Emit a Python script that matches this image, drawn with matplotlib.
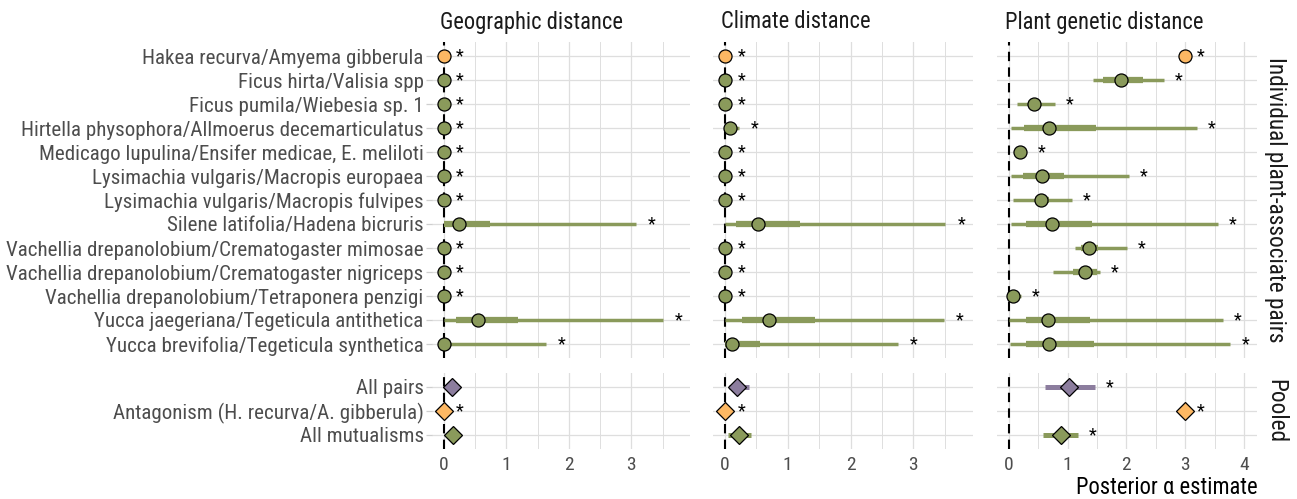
import os
import matplotlib
matplotlib.use("Agg")
import matplotlib.pyplot as plt
from matplotlib import font_manager as fm
from matplotlib.font_manager import FontProperties
from matplotlib.ticker import MultipleLocator, FixedLocator
import numpy as np

# ---- data -----------------------------------------------------------------
pairs = [
    "Hakea recurva/Amyema gibberula",
    "Ficus hirta/Valisia spp",
    "Ficus pumila/Wiebesia sp. 1",
    "Hirtella physophora/Allmoerus decemarticulatus",
    "Medicago lupulina/Ensifer medicae, E. meliloti",
    "Lysimachia vulgaris/Macropis europaea",
    "Lysimachia vulgaris/Macropis fulvipes",
    "Silene latifolia/Hadena bicruris",
    "Vachellia drepanolobium/Crematogaster mimosae",
    "Vachellia drepanolobium/Crematogaster nigriceps",
    "Vachellia drepanolobium/Tetraponera penzigi",
    "Yucca jaegeriana/Tegeticula antithetica",
    "Yucca brevifolia/Tegeticula synthetica",
]
pair_type = ["antagonism"] + ["mutualism"] * 12

panels = ["Geographic distance", "Climate distance", "Plant genetic distance"]

geo_med  = [0, 0, 0, 0, 0, 0, 0, 0.25, 0, 0, 0, 0.54, 0]
geo_lo50 = [0, 0, 0, 0, 0, 0, 0, 0.01, 0, 0, 0, 0.19, 0]
geo_hi50 = [0.01, 0.01, 0.01, 0.01, 0.01, 0.01, 0.01, 0.74, 0.01, 0.01, 0.01, 1.19, 0.10]
geo_lo95 = [0, 0, 0, 0, 0, 0, 0, 0, 0, 0, 0, 0, 0]
geo_hi95 = [0.01, 0.01, 0.01, 0.01, 0.01, 0.01, 0.01, 3.08, 0.01, 0.01, 0.01, 3.50, 1.63]

clim_med  = [0, 0, 0, 0.09, 0, 0, 0, 0.53, 0, 0, 0, 0.71, 0.12]
clim_lo50 = [0, 0, 0, 0.03, 0, 0, 0, 0.17, 0, 0, 0, 0.28, 0.01]
clim_hi50 = [0.01, 0.01, 0.01, 0.15, 0.01, 0.01, 0.01, 1.20, 0.01, 0.01, 0.01, 1.43, 0.56]
clim_lo95 = [0, 0, 0, 0, 0, 0, 0, 0.01, 0, 0, 0, 0, 0]
clim_hi95 = [0.01, 0.01, 0.01, 0.23, 0.01, 0.01, 0.01, 3.51, 0.01, 0.01, 0.01, 3.48, 2.76]

gen_med  = [3.00, 1.90, 0.43, 0.69, 0.19, 0.57, 0.55, 0.73, 1.36, 1.29, 0.07, 0.67, 0.68]
gen_lo50 = [2.99, 1.60, 0.33, 0.26, 0.15, 0.24, 0.45, 0.29, 1.22, 1.09, 0.03, 0.29, 0.29]
gen_hi50 = [3.01, 2.28, 0.55, 1.49, 0.24, 0.94, 0.68, 1.41, 1.52, 1.50, 0.12, 1.38, 1.45]
gen_lo95 = [2.98, 1.44, 0.14, 0.04, 0.12, 0.04, 0.07, 0.04, 1.13, 0.75, 0.00, 0.00, 0.02]
gen_hi95 = [3.02, 2.64, 0.79, 3.20, 0.30, 2.04, 1.08, 3.56, 2.01, 1.55, 0.21, 3.64, 3.77]

pooled = ["All pairs", "Antagonism (H. recurva/A. gibberula)", "All mutualisms"]
pooled_type = ["all", "antagonism", "mutualism"]

geo_pool_med = [0.14, 0.00, 0.15]
geo_pool_lo  = [0.05, 0.00, 0.06]
geo_pool_hi  = [0.24, 0.01, 0.25]
geo_pool_sig = [False, True, False]

clim_pool_med = [0.20, 0.00, 0.22]
clim_pool_lo  = [0.06, 0.00, 0.05]
clim_pool_hi  = [0.38, 0.01, 0.42]
clim_pool_sig = [False, True, False]

gen_pool_med = [1.03, 3.00, 0.88]
gen_pool_lo  = [0.61, 2.99, 0.58]
gen_pool_hi  = [1.46, 3.01, 1.17]
gen_pool_sig = [True, True, True]

x_title = "Posterior α estimate"
row_strips = ["Individual plant-associate pairs", "Pooled"]

indiv = [
    (geo_med, geo_lo50, geo_hi50, geo_lo95, geo_hi95),
    (clim_med, clim_lo50, clim_hi50, clim_lo95, clim_hi95),
    (gen_med, gen_lo50, gen_hi50, gen_lo95, gen_hi95),
]
pool = [
    (geo_pool_med, geo_pool_lo, geo_pool_hi, geo_pool_sig),
    (clim_pool_med, clim_pool_lo, clim_pool_hi, clim_pool_sig),
    (gen_pool_med, gen_pool_lo, gen_pool_hi, gen_pool_sig),
]


# ---- font: prefer a narrow sans face ---------------------------------------
def pick_narrow_font():
    bad = ("bold", "italic", "oblique", "light", "thin", "medium", "black",
           "semibold", "extrabold", "extralight", "extracondensed",
           "semicondensed", "ultracondensed", "heavy")
    ranked = ["liberationsansnarrow", "arialnarrow", "robotocondensed",
              "notosans-condensed", "opensans-condensed", "dejavusanscondensed",
              "notosanscondensed", "opensanscondensed"]
    found = {}
    for e in fm.fontManager.ttflist:
        base = os.path.basename(e.fname).lower()
        if not ("narrow" in base or "condensed" in base):
            continue
        if any(b in base.replace("regular", "") for b in bad):
            continue
        for r in ranked:
            if base.startswith(r):
                found.setdefault(r, e.fname)
    for r in ranked:
        if r in found:
            return FontProperties(fname=found[r])
    return FontProperties(family="Liberation Sans")


font = pick_narrow_font()


def fp(size):
    f = font.copy()
    f.set_size(size)
    return f


# ---- figure ---------------------------------------------------------------
W, H = 1297, 499
fig = plt.figure(figsize=(W / 100, H / 100), dpi=100)
fig.patch.set_facecolor("white")
renderer = fig.canvas.get_renderer()


def text_px(s, size):
    t = fig.text(0, 0, s, fontproperties=fp(size))
    w = t.get_window_extent(renderer).width
    t.remove()
    return w


def fit_size(s, target_px, nominal):
    return min(nominal, nominal * target_px / text_px(s, nominal))


lab_size = fit_size(pairs[3], 401, 17.5)
strip_size = fit_size(panels[0], 183, 19)
tick_size = min(14, lab_size)
rstrip_size = fit_size(row_strips[0], 287, 19)
title_size = fit_size(x_title, 181, 19)
star_size = 13

colors = {"antagonism": "#FDB863", "mutualism": "#8A9A5B", "all": "#8C7D9E"}
grid_col = "#DEDEDE"
label_col = "#4D4D4D"
star_gap = 0.25


def add_ax(x0, x1, y0, y1):
    return fig.add_axes([x0 / W, 1 - y1 / H, (x1 - x0) / W, (y1 - y0) / H])


col_px = [(432, 690), (713, 973), (997, 1257)]
top_px = (41.6, 358.4)
bot_px = (372.6, 449.4)


def style_axis(ax, nrows, xmax, show_y, show_x, labels):
    for s in ax.spines.values():
        s.set_visible(False)
    ax.set_ylim(nrows - 0.4, -0.6)
    span = xmax - 0.0
    ax.set_xlim(-0.05 * span, xmax + 0.05 * span)
    ax.xaxis.set_major_locator(MultipleLocator(1))
    ax.xaxis.set_minor_locator(MultipleLocator(0.5))
    ax.yaxis.set_major_locator(FixedLocator(range(nrows)))
    ax.grid(which="major", axis="both", color=grid_col, lw=0.9, zorder=0)
    ax.grid(which="minor", axis="x", color=grid_col, lw=0.7, zorder=0)
    ax.set_axisbelow(True)
    ax.tick_params(axis="x", which="both", length=0, pad=5,
                   labelcolor=label_col)
    if not show_x:
        ax.tick_params(axis="x", labelbottom=False)
    if show_y:
        ax.set_yticks(range(nrows), labels)
        ax.tick_params(axis="y", length=4, width=0.9, color="#CFCFCF", pad=2,
                       labelcolor=label_col)
        for t in ax.get_yticklabels():
            t.set_fontproperties(fp(lab_size))
    else:
        ax.tick_params(axis="y", length=0, labelleft=False)


for c in range(3):
    med, lo50, hi50, lo95, hi95 = indiv[c]
    pmed, plo, phi, psig = pool[c]
    xmax = max(max(np.array(hi95) + star_gap),
               max(np.array(phi)[np.array(psig)] + star_gap))

    # individual pairs
    ax = add_ax(col_px[c][0], col_px[c][1], top_px[0], top_px[1])
    style_axis(ax, len(pairs), xmax, c == 0, False, pairs)
    ax.axvline(0, color="black", lw=1.5, ls=(0, (4.5, 3)), zorder=1)
    y = np.arange(len(pairs))
    for i in range(len(pairs)):
        col = colors[pair_type[i]]
        ax.plot([lo95[i], hi95[i]], [y[i], y[i]], color=col, lw=2.5,
                solid_capstyle="butt", zorder=2)
        ax.plot([lo50[i], hi50[i]], [y[i], y[i]], color=col, lw=4.5,
                solid_capstyle="butt", zorder=3)
        ax.plot(med[i], y[i], "o", ms=9.4, mfc=col, mec="black", mew=0.9,
                zorder=4)
        ax.text(hi95[i] + star_gap, y[i], "*", ha="center", va="center",
                fontproperties=fp(star_size), color="black", zorder=5)

    # pooled estimates
    axb = add_ax(col_px[c][0], col_px[c][1], bot_px[0], bot_px[1])
    style_axis(axb, len(pooled), xmax, c == 0, True, pooled)
    axb.xaxis.set_major_formatter(matplotlib.ticker.FuncFormatter(
        lambda v, p: f"{v:g}"))
    axb.axvline(0, color="black", lw=1.5, ls=(0, (4.5, 3)), zorder=1)
    yb = np.arange(len(pooled))
    for i in range(len(pooled)):
        col = colors[pooled_type[i]]
        axb.plot([plo[i], phi[i]], [yb[i], yb[i]], color=col, lw=3.6,
                 solid_capstyle="butt", zorder=2)
        axb.plot(pmed[i], yb[i], "D", ms=9.3, mfc=col, mec="black", mew=0.9,
                 zorder=4)
        if psig[i]:
            axb.text(phi[i] + star_gap, yb[i], "*", ha="center", va="center",
                     fontproperties=fp(star_size), color="black", zorder=5)

    # facet strip title
    fig.text((col_px[c][0] + 8) / W, 1 - 22 / H, panels[c], ha="left",
             va="center", fontproperties=fp(strip_size), color="#1A1A1A")

# right-hand strips
fig.text(1276 / W, 1 - (top_px[0] + top_px[1]) / 2 / H, row_strips[0],
         rotation=270, ha="center", va="center",
         fontproperties=fp(rstrip_size), color="#1A1A1A")
fig.text(1276 / W, 1 - (bot_px[0] + bot_px[1]) / 2 / H, row_strips[1],
         rotation=270, ha="center", va="center",
         fontproperties=fp(rstrip_size), color="#1A1A1A")

# x-axis title
fig.text(1258 / W, 1 - 487 / H, x_title, ha="right", va="center",
         fontproperties=fp(title_size), color="black")

# tick label fonts for the x axes (set after tick labels exist)
fig.canvas.draw()
for a in fig.axes:
    for t in a.get_xticklabels():
        t.set_fontproperties(fp(tick_size))
        t.set_color(label_col)

fig.savefig("out.png", dpi=100, facecolor="white")
